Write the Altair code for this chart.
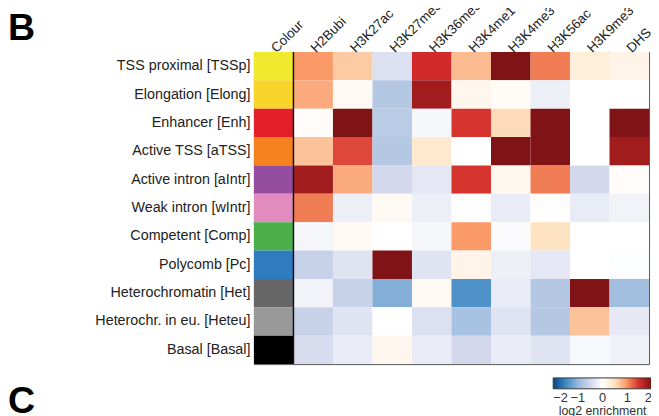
import altair as alt
import pandas as pd

states = ["TSS proximal [TSSp]", "Elongation [Elong]", "Enhancer [Enh]", "Active TSS [aTSS]",
          "Active intron [aIntr]", "Weak intron [wIntr]", "Competent [Comp]", "Polycomb [Pc]",
          "Heterochromatin [Het]", "Heterochr. in eu. [Heteu]", "Basal [Basal]"]
state_colours = ["#f0ea2e", "#f9d42a", "#e3202a", "#f5821f", "#944d9e", "#e28bbf",
                 "#4daf4a", "#2e7cbf", "#666666", "#999999", "#000000"]
marks = ["H2Bubi", "H3K27ac", "H3K27me3", "H3K36me3", "H3K4me1", "H3K4me3", "H3K56ac", "H3K9me3", "DHS"]

tssp = [0.95, 0.65, -0.4, 1.5, 0.75, 2.0, 1.1, 0.3, 0.2]
elong = [0.85, 0.1, -0.75, 1.8, 0.15, 0.08, -0.2, 0.0, 0.0]
enh = [0.05, 2.0, -0.7, -0.1, 1.45, 0.55, 2.0, 0.0, 2.0]
atss = [0.7, 1.35, -0.75, 0.4, 0.0, 2.0, 2.0, 0.0, 1.8]
aintr = [1.8, 0.85, -0.5, -0.3, 1.45, 0.12, 1.1, -0.5, 0.05]
wintr = [1.1, -0.2, 0.1, -0.2, 0.0, -0.25, 0.02, -0.25, -0.15]
comp = [-0.12, 0.1, 0.0, -0.12, 0.95, -0.05, 0.5, 0.0, 0.0]
pc = [-0.6, -0.35, 2.0, -0.35, 0.2, -0.2, -0.3, 0.0, -0.03]
het = [-0.15, -0.6, -1.1, 0.1, -1.4, -0.25, -0.75, 2.0, -0.9]
heteu = [-0.6, -0.35, 0.0, -0.4, -0.85, -0.35, -0.75, 0.7, -0.28]
basal = [-0.45, -0.25, 0.15, -0.25, -0.5, -0.25, -0.35, -0.08, -0.18]

rows = [tssp, elong, enh, atss, aintr, wintr, comp, pc, het, heteu, basal]

scale_stops = [-2, -1.5, -1, -0.5, 0, 0.5, 1, 1.5, 2]
scale_colours = ["#08468a", "#3c88c4", "#95b8dc", "#d3d8ec", "#ffffff",
                 "#fee3c2", "#f8925e", "#d2292a", "#7f1315"]

heat_df = pd.DataFrame([
    {"state": s, "mark": m, "value": v}
    for s, row in zip(states, rows) for m, v in zip(marks, row)
])
colour_df = pd.DataFrame({"state": states, "mark": ["Colour"] * len(states), "hex": state_colours})
sep_df = pd.DataFrame({"mark": ["H2Bubi"]})
b_df = pd.DataFrame({"label": ["B"]})
c_df = pd.DataFrame({"label": ["C"]})

x_order = ["Colour"] + marks
x_enc = alt.X("mark:N", sort=x_order, scale=alt.Scale(domain=x_order, paddingInner=0, paddingOuter=0),
              axis=alt.Axis(orient="top", title=None, labelAngle=-45, labelAlign="left",
                            labelBaseline="middle", ticks=False, domain=False, labelPadding=2,
                            labelFontSize=13.5, labelFont="Liberation Sans", labelColor="#222",
                            labelLimit=0))
y_enc = alt.Y("state:N", sort=states, scale=alt.Scale(domain=states, paddingInner=0, paddingOuter=0),
              axis=alt.Axis(title=None, ticks=False, domain=False, labelPadding=4,
                            labelFontSize=14.5, labelFont="Liberation Sans", labelColor="#222",
                            labelLimit=0))

colour_layer = alt.Chart(colour_df).mark_rect().encode(
    x=x_enc, y=y_enc, fill=alt.Fill("hex:N", scale=None)
)

heat_layer = alt.Chart(heat_df).mark_rect().encode(
    x=x_enc, y=y_enc,
    color=alt.Color("value:Q",
                    scale=alt.Scale(domain=scale_stops, range=scale_colours, clamp=True,
                                    interpolate="rgb"),
                    legend=alt.Legend(orient="none", legendX=303, legendY=330, direction="horizontal",
                                      gradientLength=100, gradientThickness=11,
                                      values=[-2, -1, 0, 1, 2], title="log2 enrichment",
                                      titleOrient="bottom", titleAnchor="middle", titleAlign="center",
                                      titleFontWeight="normal",
                                      titleFontSize=12.5, titleFont="Liberation Sans", titleColor="#333",
                                      labelFontSize=13, labelFont="Liberation Sans", labelColor="#333",
                                      labelAlign="center",
                                      padding=0, titlePadding=1, labelOffset=3,
                                      gradientStrokeColor="#333", gradientStrokeWidth=1))
)

sep_layer = alt.Chart(sep_df).mark_rule(color="#111", strokeWidth=1.5).encode(
    x=alt.X("mark:N", sort=x_order, bandPosition=0)
)

b_layer = alt.Chart(b_df).mark_text(font="Liberation Sans", fontWeight="bold", fontSize=38,
                                    align="left", baseline="alphabetic", color="#000").encode(
    x=alt.value(-249), y=alt.value(-12), text="label:N"
)
c_layer = alt.Chart(c_df).mark_text(font="Liberation Sans", fontWeight="bold", fontSize=38,
                                    align="left", baseline="alphabetic", color="#000").encode(
    x=alt.value(-249), y=alt.value(366), text="label:N"
)

chart = alt.layer(colour_layer, heat_layer, sep_layer, b_layer, c_layer).properties(
    width=400, height=316,
    autosize=alt.AutoSizeParams(type="none"),
    padding={"left": 249, "top": 42, "right": 2, "bottom": 50},
    background="white",
).configure_view(stroke="#555", strokeWidth=1)

chart.save("out.html", embed_options={"renderer": "svg", "actions": False})
